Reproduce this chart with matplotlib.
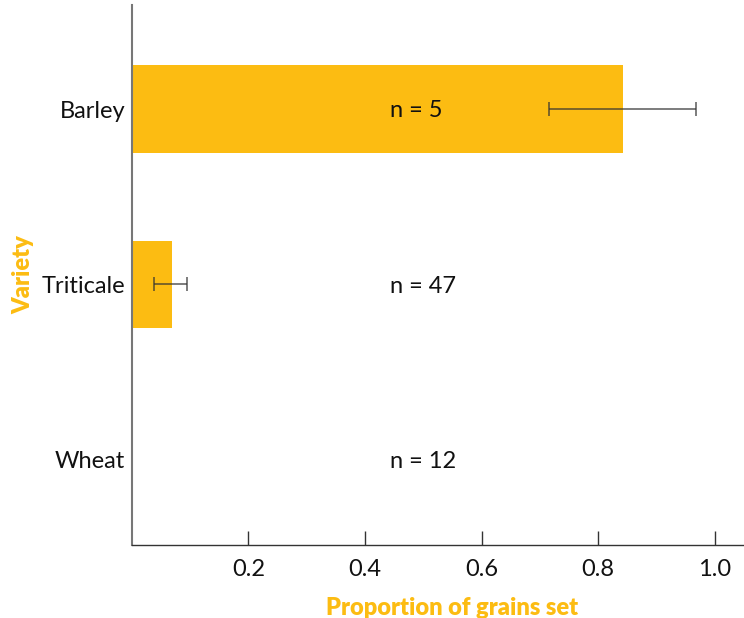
import matplotlib.pyplot as plt

varieties = ['Wheat', 'Triticale', 'Barley']
proportion = [0.0, 0.068, 0.843]
err_low = [0.0, 0.038, 0.715]
err_high = [0.0, 0.094, 0.968]
counts = [12, 47, 5]
xticks = [0.2, 0.4, 0.6, 0.8, 1.0]

orange = '#FCBC12'
plt.rcParams['font.family'] = ['Lato', 'DejaVu Sans']

fig = plt.figure(figsize=(7.44, 6.18), dpi=100)
ax = fig.add_axes([0.1774, 0.1181, 0.8226, 0.8738])

ypos = list(range(len(varieties)))
ax.barh(ypos, proportion, height=0.5, color=orange)

# error bars only where there is a spread
for y, lo, hi in zip(ypos, err_low, err_high):
    if hi > lo:
        ax.errorbar((lo + hi) / 2, y, xerr=[[(hi - lo) / 2], [(hi - lo) / 2]],
                    fmt='none', ecolor='#333333', alpha=0.75, elinewidth=1.2,
                    capsize=5, capthick=1.2)

for y, n in zip(ypos, counts):
    ax.text(0.443, y - 0.01, f'n = {n}', va='center', ha='left', fontsize=17, color='#111111')

ax.set_xlim(0, 1.0506)
ax.set_ylim(-0.486, 2.594)
ax.set_xticks(xticks)
ax.set_xticklabels([f'{t:.1f}' for t in xticks])
ax.set_yticks(ypos)
ax.set_yticklabels(varieties)

ax.tick_params(axis='x', direction='in', length=10, width=1, color='#333333',
               labelsize=17, pad=10, labelcolor='#111111')
ax.tick_params(axis='y', length=0, labelsize=17, pad=5, labelcolor='#111111')

for side in ['top', 'right']:
    ax.spines[side].set_visible(False)
ax.spines['left'].set_color('#777777')
ax.spines['left'].set_linewidth(1.5)
ax.spines['bottom'].set_color('#333333')
ax.spines['bottom'].set_linewidth(1)

ax.set_xlabel('Proportion of grains set', color=orange, fontsize=17,
              fontweight='heavy')
ax.xaxis.set_label_coords(0.523, -0.097)
ax.set_ylabel('Variety', color=orange, fontsize=17, fontweight='heavy', labelpad=5)

fig.savefig('out.png', dpi=100)
